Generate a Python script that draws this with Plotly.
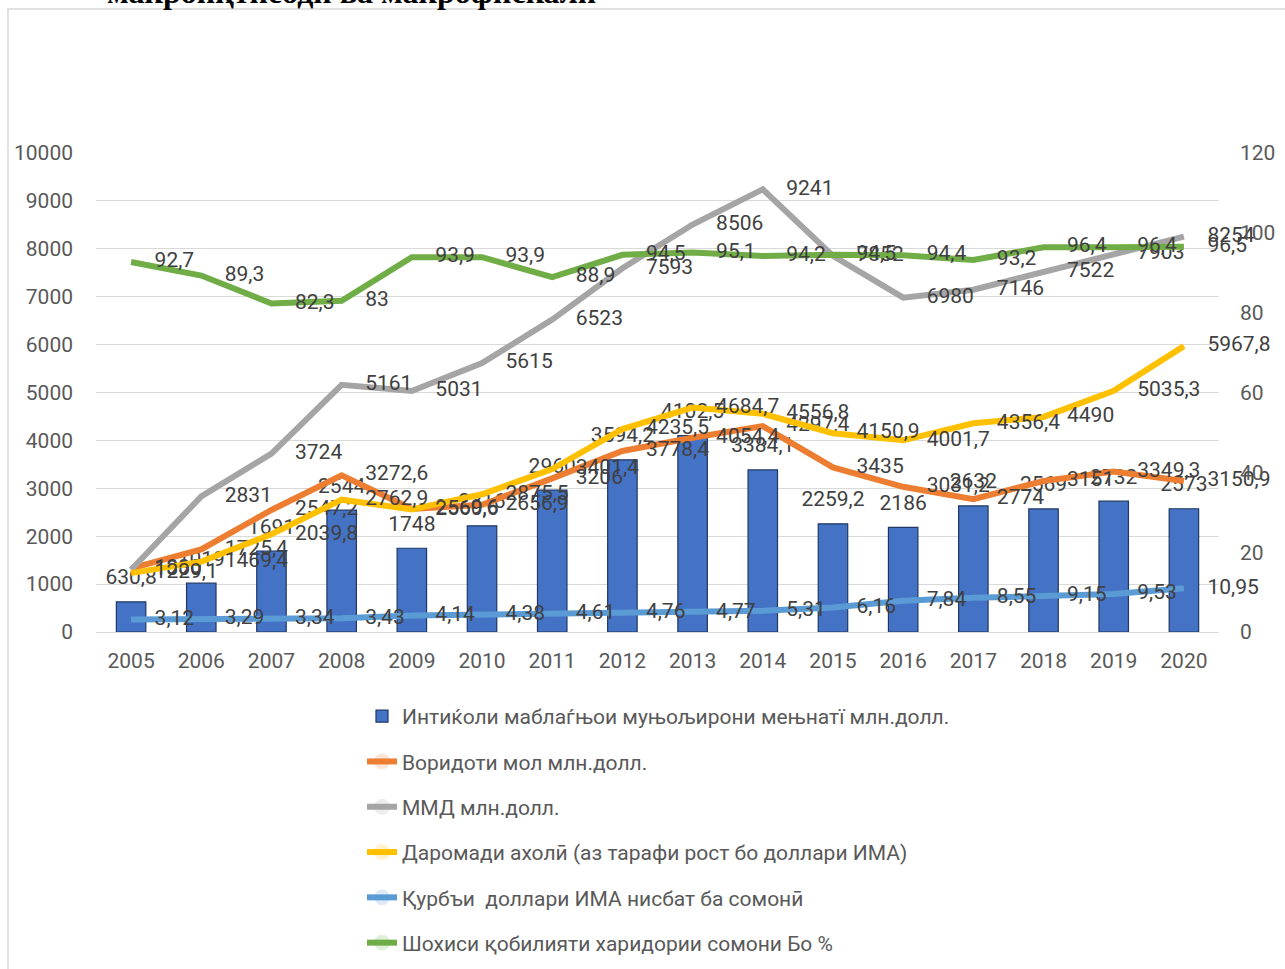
import plotly.graph_objects as go

years = [str(y) for y in range(2005, 2021)]
remittances = [630.8, 1019, 1691, 2544, 1748, 2216, 2960, 3594.2, 4102.5, 3384.1,
               2259.2, 2186, 2632, 2569, 2732, 2573]
imports = [1330, 1725.4, 2547.2, 3272.6, 2569.6, 2656.9, 3206, 3778.4, 4054.4, 4297.4,
           3435, 3031.2, 2774, 3151, 3349.3, 3150.9]
gdp = [1300, 2831, 3724, 5161, 5031, 5615, 6523, 7593, 8506, 9241,
       7852, 6980, 7146, 7522, 7903, 8254]
income = [1229.1, 1469.4, 2039.8, 2762.9, 2560.6, 2875.5, 3401.4, 4235.5, 4684.7, 4556.8,
          4150.9, 4001.7, 4356.4, 4490, 5035.3, 5967.8]
usd_rate = [3.12, 3.29, 3.34, 3.43, 4.14, 4.38, 4.61, 4.76, 4.77, 5.31,
            6.16, 7.84, 8.55, 9.15, 9.53, 10.95]
purchasing_power = [92.7, 89.3, 82.3, 83, 93.9, 93.9, 88.9, 94.5, 95.1, 94.2,
                    94.5, 94.4, 93.2, 96.4, 96.4, 96.5]

names = [
    "Интиќоли маблаѓњои муњољирони мењнатї млн.долл.",
    "Воридоти мол млн.долл.",
    "ММД млн.долл.",
    "Даромади ахолӣ (аз тарафи рост бо доллари ИМА)",
    "Қурбъи\u00a0 доллари ИМА нисбат ба сомонӣ",
    "Шохиси қобилияти харидории сомони Бо %",
]
title_text = "макроиқтисодӣ ва макрофискалӣ"


def fmt(v):
    s = f"{v:.2f}".rstrip("0").rstrip(".")
    return s.replace(".", ",")


FONT = "Roboto"
FS = 21
LABEL_COLOR = "#404040"
TICK_COLOR = "#595959"

fig = go.Figure()

fig.add_trace(go.Bar(
    x=years, y=remittances, name=names[0], legendgroup="g0",
    marker=dict(color="#4472C4", line=dict(color="#1F3864", width=1.2)),
    hoverinfo="skip",
))
fig.add_trace(go.Scatter(
    x=years, y=remittances, mode="markers+text", text=[fmt(v) for v in remittances],
    textposition="top center", marker=dict(size=18, opacity=0), showlegend=False,
    cliponaxis=False, textfont=dict(family=FONT, size=FS, color=LABEL_COLOR), hoverinfo="skip",
))

lines = [
    (names[1], imports, "#ED7D31", "y", "g1"),
    (names[2], gdp, "#A5A5A5", "y", "g2"),
    (names[3], income, "#FFC000", "y", "g3"),
    (names[4], usd_rate, "#5B9BD5", "y2", "g4"),
    (names[5], purchasing_power, "#70AD47", "y2", "g5"),
]
for name, vals, color, axis, grp in lines:
    fig.add_trace(go.Scatter(
        x=years, y=vals, name=name, legendgroup=grp, yaxis=axis,
        mode="lines+markers+text", text=[fmt(v) for v in vals],
        textposition="middle right",
        line=dict(color=color, width=6),
        marker=dict(size=36, opacity=0, color=color),
        cliponaxis=False,
        textfont=dict(family=FONT, size=FS, color=LABEL_COLOR),
        hoverinfo="skip",
    ))

W, H = 1285, 969
L, R, T, B = 96, 66, 153, 337
pw, ph = W - L - R, H - T - B


def px_x(p):
    return (p - L) / pw


def px_y(p):
    return (H - B - p) / ph


fig.update_layout(
    width=W, height=H,
    margin=dict(l=L, r=R, t=T, b=B, pad=0, autoexpand=False),
    paper_bgcolor="white", plot_bgcolor="white",
    font=dict(family=FONT, size=FS, color=TICK_COLOR),
    bargap=0.58,
    showlegend=True,
    xaxis=dict(type="category", range=[-0.5, len(years) - 0.5], autorange=False,
               showgrid=False, showline=False, ticks="",
               ticklabelstandoff=14, tickfont=dict(size=FS, color=TICK_COLOR)),
    yaxis=dict(range=[0, 10000], dtick=1000, tickformat="d", gridcolor="#D9D9D9",
               gridwidth=1, zeroline=True, zerolinecolor="#D9D9D9", zerolinewidth=1,
               showline=False, ticks="", ticklabelstandoff=22,
               tickfont=dict(size=FS, color=TICK_COLOR)),
    yaxis2=dict(range=[0, 120], dtick=20, tickformat="d", overlaying="y", side="right",
                showgrid=False, zeroline=False, showline=False, ticks="",
                ticklabelstandoff=20, tickfont=dict(size=FS, color=TICK_COLOR)),
    legend=dict(x=px_x(362), y=px_y(696), xanchor="left", yanchor="top",
                tracegroupgap=15, bgcolor="rgba(0,0,0,0)",
                font=dict(family=FONT, size=FS, color=TICK_COLOR)),
    shapes=[dict(type="rect", xref="paper", yref="paper",
                 x0=px_x(8), x1=px_x(1300), y0=px_y(990), y1=px_y(9),
                 line=dict(color="#D9D9D9", width=1.5), fillcolor="rgba(0,0,0,0)",
                 layer="below")],
    annotations=[dict(text="<b>" + title_text + "</b>", xref="paper", yref="paper",
                      x=px_x(351), y=px_y(12), xanchor="center", yanchor="bottom",
                      showarrow=False,
                      font=dict(family="Liberation Serif", size=32, color="black"))],
)

fig.write_html("out.html", config={"displayModeBar": False},
               post_script="document.body.style.margin='0';document.body.style.overflow='hidden';")
